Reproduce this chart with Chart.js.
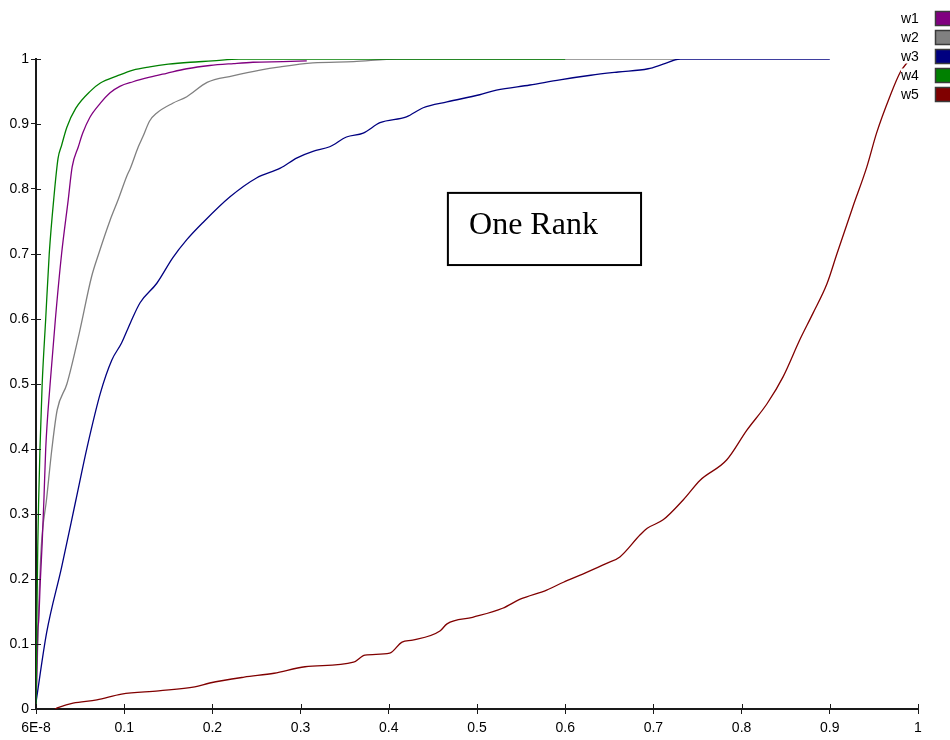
<!DOCTYPE html>
<html>
<head>
<meta charset="utf-8">
<title>One Rank</title>
<script src="https://cdn.jsdelivr.net/npm/chart.js@4.4.1/dist/chart.umd.min.js"></script>
<style>
  html, body { margin: 0; padding: 0; background: #ffffff; }
  #wrap { width: 950px; height: 740px; }
</style>
</head>
<body>
<div id="wrap"><canvas id="c" width="950" height="740"></canvas></div>
<script>
// Cumulative curves for the five weightings (x = threshold, y = cumulative share)
const seriesNames = ['w1', 'w2', 'w3', 'w4', 'w5'];
const seriesColors = ['#800080', '#808080', '#000080', '#008000', '#800000'];

const w1X = [0, 0.002, 0.003, 0.005, 0.007, 0.009, 0.011, 0.016, 0.022, 0.029, 0.0365, 0.041, 0.048, 0.053, 0.061, 0.073, 0.084, 0.095, 0.11, 0.129, 0.148, 0.171, 0.197, 0.224, 0.246, 0.28, 0.307];
const w1Y = [0, 0.12, 0.135, 0.2, 0.255, 0.323, 0.40, 0.50, 0.60, 0.70, 0.783, 0.834, 0.865, 0.886, 0.91, 0.932, 0.948, 0.958, 0.965, 0.972, 0.978, 0.985, 0.99, 0.993, 0.995, 0.996, 0.997];

const w2X = [0, 0.001, 0.003, 0.006, 0.012, 0.018, 0.024, 0.035, 0.049, 0.063, 0.071, 0.084, 0.093, 0.103, 0.107, 0.116, 0.121, 0.129, 0.137, 0.155, 0.171, 0.194, 0.223, 0.254, 0.277, 0.314, 0.36, 0.41, 0.73];
const w2Y = [0, 0.05, 0.15, 0.25, 0.323, 0.40, 0.46, 0.50, 0.578, 0.665, 0.70, 0.752, 0.783, 0.82, 0.832, 0.865, 0.88, 0.905, 0.917, 0.932, 0.942, 0.964, 0.974, 0.983, 0.988, 0.994, 0.996, 1.0, 1.0];

const w3X = [0, 0.012, 0.029, 0.045, 0.058, 0.073, 0.086, 0.097, 0.107, 0.118, 0.137, 0.155, 0.171, 0.189, 0.22, 0.25, 0.277, 0.296, 0.314, 0.333, 0.352, 0.371, 0.39, 0.42, 0.439, 0.466, 0.503, 0.522, 0.56, 0.594, 0.629, 0.66, 0.694, 0.711, 0.73, 0.9];
const w3Y = [0.01, 0.117, 0.218, 0.32, 0.403, 0.486, 0.537, 0.563, 0.594, 0.625, 0.655, 0.694, 0.722, 0.748, 0.788, 0.817, 0.832, 0.848, 0.858, 0.865, 0.88, 0.886, 0.902, 0.911, 0.925, 0.934, 0.945, 0.952, 0.96, 0.968, 0.975, 0.98, 0.985, 0.992, 1.0, 1.0];

const w4X = [0, 0.001, 0.002, 0.003, 0.0045, 0.007, 0.011, 0.015, 0.0205, 0.025, 0.029, 0.035, 0.045, 0.062, 0.073, 0.092, 0.11, 0.129, 0.15, 0.175, 0.2, 0.23, 0.6];
const w4Y = [0, 0.14, 0.25, 0.32, 0.40, 0.50, 0.60, 0.70, 0.79, 0.847, 0.867, 0.895, 0.924, 0.951, 0.963, 0.974, 0.983, 0.988, 0.992, 0.995, 0.997, 1.0, 1.0];

const w5X = [0.0215, 0.025, 0.042, 0.069, 0.097, 0.139, 0.18, 0.197, 0.236, 0.27, 0.305, 0.36, 0.373, 0.401, 0.415, 0.427, 0.458, 0.466, 0.495, 0.529, 0.549, 0.579, 0.598, 0.617, 0.647, 0.662, 0.685, 0.693, 0.711, 0.734, 0.753, 0.783, 0.806, 0.829, 0.847, 0.866, 0.881, 0.897, 0.908, 0.926, 0.942, 0.953, 0.968, 0.98, 0.988];
const w5Y = [0, 0.002, 0.009, 0.014, 0.023, 0.028, 0.034, 0.04, 0.049, 0.055, 0.065, 0.072, 0.083, 0.086, 0.103, 0.106, 0.12, 0.131, 0.141, 0.155, 0.169, 0.183, 0.195, 0.206, 0.224, 0.234, 0.268, 0.278, 0.291, 0.322, 0.352, 0.383, 0.429, 0.47, 0.511, 0.568, 0.609, 0.655, 0.70, 0.772, 0.834, 0.886, 0.942, 0.98, 0.995];

const xTicks = [0, 0.1, 0.2, 0.3, 0.4, 0.5, 0.6, 0.7, 0.8, 0.9, 1];
const xTickLabels = ['6E-8', '0.1', '0.2', '0.3', '0.4', '0.5', '0.6', '0.7', '0.8', '0.9', '1'];
const yTickLabels = ['0', '0.1', '0.2', '0.3', '0.4', '0.5', '0.6', '0.7', '0.8', '0.9', '1'];

const boxTitle = 'One Rank';

const allX = [w1X, w2X, w3X, w4X, w5X];
const allY = [w1Y, w2Y, w3Y, w4Y, w5Y];

const axisFont = { family: '"Liberation Sans", Arial, sans-serif', size: 14 };
const axisFontCss = axisFont.size + 'px ' + axisFont.family;

const datasets = seriesNames.map((name, i) => ({
  label: name,
  data: allX[i].map((x, k) => ({ x: x, y: allY[i][k] })),
  showLine: true,
  borderColor: seriesColors[i],
  backgroundColor: seriesColors[i],
  borderWidth: 1.3,
  pointRadius: 0,
  pointHoverRadius: 0,
  fill: false,
  cubicInterpolationMode: 'monotone',
  // green and blue sit above the others where they overlap
  order: [3, 4, 1, 0, 2][i]
}));

const AXIS_COLOR = '#1a1a1a';

// Short tick stubs on the inner side of both axes
const innerTicks = {
  id: 'innerTicks',
  afterDraw(chart) {
    const { ctx, scales: { x, y } } = chart;
    ctx.save();
    ctx.strokeStyle = AXIS_COLOR;
    ctx.lineWidth = 1;
    xTicks.forEach(v => {
      const px = Math.round(x.getPixelForValue(v)) + 0.5;
      ctx.beginPath();
      ctx.moveTo(px, y.bottom);
      ctx.lineTo(px, y.bottom - 5);
      ctx.stroke();
    });
    yTickLabels.forEach((_, i) => {
      const py = Math.round(y.getPixelForValue(i / 10)) + 0.5;
      ctx.beginPath();
      ctx.moveTo(x.left, py);
      ctx.lineTo(x.left + 5, py);
      ctx.stroke();
    });
    ctx.restore();
  }
};

// Framed caption inside the plot
const captionBox = {
  id: 'captionBox',
  afterDraw(chart) {
    const { ctx, scales: { x, y } } = chart;
    const left = x.getPixelForValue(0.467);
    const right = x.getPixelForValue(0.686);
    const top = y.getPixelForValue(0.794);
    const bottom = y.getPixelForValue(0.683);
    ctx.save();
    ctx.fillStyle = '#ffffff';
    ctx.fillRect(left, top, right - left, bottom - top);
    ctx.strokeStyle = '#000000';
    ctx.lineWidth = 2;
    ctx.strokeRect(left, top, right - left, bottom - top);
    ctx.fillStyle = '#000000';
    ctx.font = '32px "Liberation Serif", "Times New Roman", serif';
    ctx.textBaseline = 'alphabetic';
    ctx.textAlign = 'left';
    ctx.fillText(boxTitle, x.getPixelForValue(0.491), y.getPixelForValue(0.731));
    ctx.restore();
  }
};

// Series key in the top-right corner: name, then a swatch
const seriesKey = {
  id: 'seriesKey',
  afterDraw(chart) {
    const { ctx } = chart;
    ctx.save();
    ctx.font = axisFontCss;
    ctx.textBaseline = 'middle';
    ctx.textAlign = 'left';
    seriesNames.forEach((name, i) => {
      const cy = 18.5 + i * 19;
      const tw = ctx.measureText(name).width;
      ctx.fillStyle = '#ffffff';
      ctx.fillRect(901, cy - 7, tw + 2, 14);
      ctx.fillStyle = '#000000';
      ctx.fillText(name, 901, cy + 0.5);
      ctx.fillStyle = seriesColors[i];
      ctx.fillRect(935, cy - 7.5, 16, 15);
      ctx.strokeStyle = '#3a3a3a';
      ctx.lineWidth = 1.5;
      ctx.strokeRect(935.5, cy - 7, 16, 14);
    });
    ctx.restore();
  }
};

new Chart(document.getElementById('c'), {
  type: 'scatter',
  data: { datasets },
  options: {
    responsive: false,
    animation: false,
    events: [],
    layout: { padding: { top: 59, right: 32, left: 0, bottom: 0 } },
    plugins: {
      legend: { display: false },
      tooltip: { enabled: false },
      title: { display: false }
    },
    scales: {
      x: {
        type: 'linear',
        min: 0,
        max: 1,
        afterFit(scale) { scale.height = 31; },
        afterBuildTicks(scale) { scale.ticks = xTicks.map(v => ({ value: v })); },
        ticks: {
          autoSkip: false,
          maxRotation: 0,
          minRotation: 0,
          padding: 6,
          color: '#000000',
          font: axisFont,
          callback(value) {
            const i = xTicks.findIndex(t => Math.abs(t - value) < 1e-9);
            return i >= 0 ? xTickLabels[i] : '';
          }
        },
        grid: {
          display: true,
          drawOnChartArea: false,
          drawTicks: true,
          tickLength: 5,
          color: AXIS_COLOR,
          lineWidth: 1
        },
        border: { display: true, color: AXIS_COLOR, width: 2 }
      },
      y: {
        type: 'linear',
        min: 0,
        max: 1,
        afterFit(scale) { scale.width = 36; },
        afterBuildTicks(scale) { scale.ticks = yTickLabels.map((_, i) => ({ value: i / 10 })); },
        ticks: {
          autoSkip: false,
          padding: 2,
          color: '#000000',
          font: axisFont,
          callback(value) {
            return yTickLabels[Math.round(value * 10)];
          }
        },
        grid: {
          display: true,
          drawOnChartArea: false,
          drawTicks: true,
          tickLength: 5,
          color: AXIS_COLOR,
          lineWidth: 1
        },
        border: { display: true, color: AXIS_COLOR, width: 2 }
      }
    }
  },
  plugins: [innerTicks, captionBox, seriesKey]
});
</script>
</body>
</html>
